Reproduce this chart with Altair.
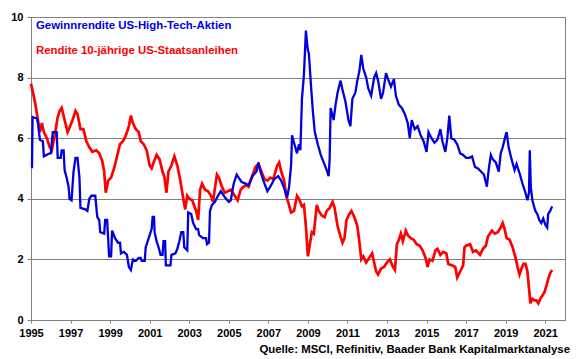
import altair as alt
import pandas as pd

# Gewinnrendite US-High-Tech-Aktien (blue)
blue_year = [
    1995.00, 1995.05, 1995.08, 1995.30, 1995.35, 1995.45, 1995.60, 1995.65, 1995.95, 1996.00,
    1996.10, 1996.30, 1996.35, 1996.50, 1996.55, 1996.65, 1996.70, 1996.80, 1996.90, 1996.95,
    1997.05, 1997.15, 1997.25, 1997.35, 1997.45, 1997.50, 1997.75, 1997.85, 1997.95, 1998.05,
    1998.25, 1998.35, 1998.45, 1998.50, 1998.70, 1998.75, 1998.85, 1998.95, 1999.05, 1999.10,
    1999.25, 1999.40, 1999.50, 1999.55, 1999.70, 1999.85, 1999.95, 2000.05, 2000.15, 2000.30,
    2000.45, 2000.55, 2000.60, 2000.75, 2000.80, 2000.95, 2001.10, 2001.15, 2001.22, 2001.25,
    2001.35, 2001.45, 2001.55, 2001.65, 2001.70, 2001.78, 2001.82, 2002.05, 2002.10, 2002.30,
    2002.40, 2002.50, 2002.60, 2002.70, 2002.75, 2002.90, 2002.95, 2003.10, 2003.20, 2003.35,
    2003.45, 2003.50, 2003.70, 2003.85, 2003.90, 2004.00, 2004.05, 2004.15, 2004.30, 2004.45,
    2004.60, 2004.80, 2005.00, 2005.10, 2005.25, 2005.40, 2005.50, 2005.65, 2005.85, 2006.00,
    2006.20, 2006.40, 2006.50, 2006.60, 2006.75, 2006.95, 2007.10, 2007.30, 2007.50, 2007.65,
    2007.80, 2007.95, 2008.05, 2008.15, 2008.20, 2008.30, 2008.45, 2008.55, 2008.62, 2008.70,
    2008.80, 2008.90, 2008.95, 2009.00, 2009.05, 2009.15, 2009.25, 2009.35, 2009.50, 2009.65,
    2009.80, 2009.95, 2010.05, 2010.10, 2010.15, 2010.30, 2010.40, 2010.50, 2010.65, 2010.75,
    2010.90, 2011.05, 2011.15, 2011.25, 2011.40, 2011.50, 2011.60, 2011.70, 2011.80, 2011.95,
    2012.05, 2012.20, 2012.35, 2012.45, 2012.55, 2012.70, 2012.80, 2012.95, 2013.05, 2013.20,
    2013.35, 2013.45, 2013.60, 2013.75, 2013.90, 2014.05, 2014.15, 2014.25, 2014.40, 2014.55,
    2014.70, 2014.85, 2015.00, 2015.10, 2015.25, 2015.40, 2015.55, 2015.70, 2015.80, 2015.95,
    2016.05, 2016.15, 2016.25, 2016.40, 2016.55, 2016.70, 2016.85, 2017.00, 2017.15, 2017.30,
    2017.45, 2017.60, 2017.75, 2017.90, 2018.05, 2018.15, 2018.25, 2018.35, 2018.50, 2018.65,
    2018.75, 2018.85, 2019.00, 2019.05, 2019.15, 2019.30, 2019.45, 2019.55, 2019.70, 2019.85,
    2020.00, 2020.10, 2020.18, 2020.22, 2020.27, 2020.35, 2020.50, 2020.60, 2020.70, 2020.80,
    2020.90, 2021.00, 2021.10, 2021.15, 2021.25, 2021.35,
]
blue_value = [
    5.05, 5.05, 6.70, 6.65, 6.50, 5.95, 5.90, 5.40, 5.50, 5.50,
    6.20, 6.20, 5.35, 5.35, 5.60, 5.60, 4.95, 4.70, 4.40, 4.00,
    3.95, 4.90, 5.35, 5.35, 4.70, 3.70, 3.65, 3.60, 4.00, 4.10,
    4.10, 3.40, 3.30, 2.90, 2.85, 3.30, 3.30, 2.10, 2.10, 2.95,
    2.70, 2.55, 2.55, 2.20, 2.25, 2.15, 1.75, 1.65, 2.00, 1.95,
    2.05, 2.05, 1.95, 1.95, 2.40, 2.70, 3.00, 3.40, 3.40, 2.90,
    2.60, 2.40, 2.15, 2.15, 2.60, 2.60, 1.80, 1.80, 2.15, 2.20,
    2.35, 2.60, 2.90, 2.90, 2.40, 2.30, 3.55, 3.50, 3.20, 3.00,
    3.00, 2.80, 2.70, 2.70, 2.50, 2.55, 3.60, 3.80, 3.90, 4.10,
    4.25, 4.05, 3.90, 3.95, 4.50, 4.80, 4.70, 4.55, 4.50, 4.45,
    4.75, 4.90, 5.20, 4.90, 4.60, 4.25, 4.40, 4.65, 4.75, 4.60,
    4.35, 4.05, 4.40, 5.10, 6.10, 5.85, 5.50, 5.80, 5.60, 7.30,
    8.10, 9.55, 9.20, 8.90, 8.80, 7.80, 6.90, 6.20, 5.80, 5.45,
    5.20, 4.95, 4.75, 5.30, 7.00, 6.60, 7.10, 7.50, 7.90, 7.60,
    7.20, 6.60, 6.40, 7.30, 7.50, 7.90, 8.20, 8.75, 8.30, 8.00,
    7.65, 7.40, 8.00, 8.15, 7.90, 7.30, 7.50, 8.15, 7.95, 7.70,
    7.95, 7.40, 7.10, 7.00, 6.80, 6.50, 6.00, 6.60, 6.30, 6.40,
    6.10, 5.90, 5.55, 6.20, 6.00, 5.85, 5.95, 6.30, 5.90, 5.55,
    6.00, 6.75, 6.00, 5.95, 5.80, 5.50, 5.45, 5.35, 5.35, 5.40,
    5.05, 5.00, 4.90, 4.80, 4.40, 5.00, 5.45, 5.30, 5.20, 4.90,
    5.50, 5.70, 6.10, 6.20, 5.70, 5.30, 4.95, 5.15, 4.85, 4.50,
    4.20, 3.95, 4.20, 5.60, 4.40, 3.95, 3.60, 3.50, 3.30, 3.20,
    3.35, 3.15, 3.05, 3.50, 3.60, 3.75,
]

# Rendite 10-jährige US-Staatsanleihen (red)
red_year = [
    1995.00, 1995.10, 1995.20, 1995.35, 1995.45, 1995.55, 1995.65, 1995.80, 1995.95, 1996.05,
    1996.20, 1996.35, 1996.45, 1996.55, 1996.70, 1996.85, 1996.95, 1997.10, 1997.25, 1997.35,
    1997.50, 1997.65, 1997.80, 1997.95, 1998.10, 1998.30, 1998.45, 1998.60, 1998.70, 1998.78,
    1998.90, 1999.05, 1999.20, 1999.35, 1999.50, 1999.65, 1999.80, 1999.95, 2000.05, 2000.15,
    2000.30, 2000.45, 2000.55, 2000.70, 2000.85, 2001.00, 2001.10, 2001.20, 2001.35, 2001.50,
    2001.65, 2001.75, 2001.85, 2001.95, 2002.10, 2002.25, 2002.40, 2002.55, 2002.70, 2002.80,
    2002.90, 2003.00, 2003.15, 2003.35, 2003.45, 2003.55, 2003.65, 2003.80, 2003.95, 2004.10,
    2004.20, 2004.40, 2004.50, 2004.65, 2004.80, 2004.95, 2005.10, 2005.30, 2005.45, 2005.60,
    2005.75, 2005.90, 2006.00, 2006.15, 2006.35, 2006.50, 2006.65, 2006.80, 2006.95, 2007.10,
    2007.25, 2007.45, 2007.55, 2007.65, 2007.80, 2007.90, 2008.00, 2008.15, 2008.30, 2008.45,
    2008.55, 2008.70, 2008.80, 2008.90, 2009.00, 2009.10, 2009.20, 2009.30, 2009.45, 2009.55,
    2009.70, 2009.85, 2009.95, 2010.10, 2010.25, 2010.35, 2010.50, 2010.65, 2010.75, 2010.85,
    2010.95, 2011.10, 2011.20, 2011.35, 2011.50, 2011.60, 2011.70, 2011.80, 2011.95, 2012.10,
    2012.25, 2012.35, 2012.45, 2012.55, 2012.70, 2012.85, 2013.00, 2013.15, 2013.30, 2013.40,
    2013.50, 2013.60, 2013.70, 2013.80, 2013.95, 2014.05, 2014.20, 2014.35, 2014.50, 2014.65,
    2014.80, 2014.95, 2015.05, 2015.15, 2015.30, 2015.45, 2015.55, 2015.70, 2015.85, 2016.00,
    2016.10, 2016.30, 2016.45, 2016.55, 2016.70, 2016.85, 2016.92, 2017.00, 2017.20, 2017.35,
    2017.50, 2017.70, 2017.85, 2018.00, 2018.10, 2018.30, 2018.45, 2018.60, 2018.75, 2018.85,
    2018.95, 2019.05, 2019.20, 2019.35, 2019.50, 2019.60, 2019.70, 2019.80, 2019.90, 2020.00,
    2020.10, 2020.20, 2020.25, 2020.35, 2020.45, 2020.55, 2020.65, 2020.75, 2020.85, 2020.95,
    2021.05, 2021.15, 2021.25, 2021.35,
]
red_value = [
    7.80, 7.50, 7.20, 6.60, 6.20, 6.50, 6.20, 6.00, 5.70, 5.60,
    6.10, 6.70, 6.90, 7.00, 6.60, 6.20, 6.35, 6.60, 6.90, 6.80,
    6.30, 6.30, 5.90, 5.70, 5.55, 5.60, 5.50, 5.25, 4.90, 4.20,
    4.60, 4.70, 5.00, 5.40, 5.80, 5.90, 6.10, 6.40, 6.75, 6.50,
    6.30, 6.20, 5.90, 5.80, 5.60, 5.10, 5.00, 5.20, 5.45, 5.30,
    4.90, 4.70, 4.20, 4.90, 5.10, 5.40, 5.10, 4.60, 4.00, 3.65,
    4.10, 4.00, 3.95, 3.60, 3.30, 4.30, 4.50, 4.30, 4.25, 4.10,
    3.90, 4.80, 4.70, 4.40, 4.20, 4.25, 4.30, 4.10, 3.95, 4.30,
    4.40, 4.45, 4.40, 4.70, 5.05, 5.15, 4.90, 4.65, 4.60, 4.70,
    4.65, 5.10, 5.20, 4.90, 4.60, 4.10, 3.90, 3.55, 3.60, 4.10,
    4.00, 3.75, 3.80, 3.10, 2.10, 2.50, 2.90, 2.85, 3.80, 3.60,
    3.45, 3.40, 3.60, 3.70, 3.90, 3.70, 3.10, 2.75, 2.55, 2.70,
    3.30, 3.50, 3.60, 3.40, 3.10, 2.60, 2.00, 2.10, 1.90, 2.05,
    2.20, 1.90, 1.60, 1.50, 1.70, 1.75, 1.90, 2.00, 1.75, 1.65,
    2.50, 2.65, 2.85, 2.60, 2.95, 2.80, 2.70, 2.65, 2.50, 2.45,
    2.30, 2.05, 1.75, 2.00, 1.95, 2.30, 2.35, 2.15, 2.25, 2.20,
    1.85, 1.80, 1.75, 1.40, 1.60, 1.80, 2.40, 2.45, 2.50, 2.25,
    2.30, 2.15, 2.35, 2.45, 2.75, 2.95, 2.85, 2.90, 3.05, 3.20,
    3.00, 2.70, 2.65, 2.40, 2.05, 1.75, 1.50, 1.70, 1.85, 1.85,
    1.60, 0.90, 0.55, 0.70, 0.65, 0.65, 0.55, 0.70, 0.80, 0.90,
    1.10, 1.35, 1.55, 1.65,
]

x_ticks = list(range(1995, 2022, 2))
y_ticks = [0, 2, 4, 6, 8, 10]

label_blue = "Gewinnrendite US-High-Tech-Aktien"
label_red = "Rendite 10-jährige US-Staatsanleihen"
source_text = "Quelle: MSCI, Refinitiv, Baader Bank Kapitalmarktanalyse"

BLUE = "#0000E0"
RED = "#FF0000"
GRAY = "#808080"
FONT = "Liberation Sans"

df_blue = pd.DataFrame({"Jahr": blue_year, "Wert": blue_value})
df_red = pd.DataFrame({"Jahr": red_year, "Wert": red_value})

x_enc = alt.X(
    "Jahr:Q",
    scale=alt.Scale(domain=[1995, 2022], nice=False, zero=False),
    axis=alt.Axis(values=x_ticks, format="d", title=None, grid=False,
                  tickSize=3, labelPadding=4, labelFlush=False),
)
y_enc = alt.Y(
    "Wert:Q",
    scale=alt.Scale(domain=[0, 10], nice=False),
    axis=alt.Axis(values=y_ticks, title=None, grid=True, tickSize=4,
                  labelPadding=4),
)

red_line = alt.Chart(df_red).mark_line(color=RED, strokeWidth=2.7, strokeJoin="miter").encode(x=x_enc, y=y_enc)
blue_line = alt.Chart(df_blue).mark_line(color=BLUE, strokeWidth=2.3, strokeJoin="miter").encode(x=x_enc, y=y_enc)

txt_blue = alt.Chart(pd.DataFrame({"t": [label_blue]})).mark_text(
    align="left", baseline="middle", font=FONT, fontWeight="bold", fontSize=11.4, color=BLUE
).encode(text="t:N", x=alt.value(5), y=alt.value(9))

txt_red = alt.Chart(pd.DataFrame({"t": [label_red]})).mark_text(
    align="left", baseline="middle", font=FONT, fontWeight="bold", fontSize=11.4, color=RED
).encode(text="t:N", x=alt.value(5), y=alt.value(34))

txt_src = alt.Chart(pd.DataFrame({"t": [source_text]})).mark_text(
    align="right", baseline="middle", font=FONT, fontWeight="bold", fontSize=11.4, color="#000000"
).encode(text="t:N", x=alt.value(539), y=alt.value(333))

chart = alt.layer(red_line, blue_line, txt_blue, txt_red, txt_src).properties(
    width=534,
    height=303,
    autosize=alt.AutoSizeParams(type="none"),
    padding={"left": 23, "top": 9, "right": 7, "bottom": 36},
    background="white",
).configure_view(
    stroke=GRAY, strokeWidth=1
).configure_axis(
    domainColor=GRAY, tickColor=GRAY, gridColor=GRAY, gridWidth=1,
    labelFont=FONT, labelFontWeight="bold", labelFontSize=11, labelColor="#000000",
)

chart.save("out.html", embed_options={"renderer": "svg", "actions": False})
